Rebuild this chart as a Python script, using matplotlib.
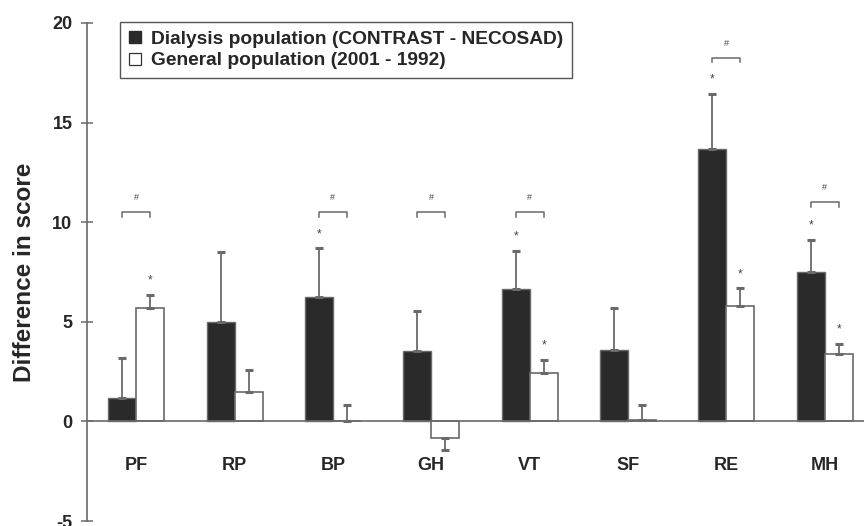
import numpy as np
import matplotlib
matplotlib.use("Agg")
import matplotlib.pyplot as plt
from matplotlib.lines import Line2D

plt.rcParams['font.family'] = ['Liberation Sans', 'DejaVu Sans']
plt.rcParams['font.weight'] = 'bold'
plt.rcParams['axes.unicode_minus'] = False

# SF-36 domains and mean differences in score
categories = ['PF', 'RP', 'BP', 'GH', 'VT', 'SF', 'RE', 'MH']
dialysis = [1.17, 5.00, 6.25, 3.55, 6.67, 3.60, 13.67, 7.50]
dialysis_err = [2.01, 3.51, 2.44, 1.98, 1.89, 2.11, 2.76, 1.60]
general = [5.69, 1.46, 0.0, -0.84, 2.43, 0.08, 5.78, 3.37]
general_err = [0.68, 1.12, 0.80, 0.58, 0.64, 0.72, 0.90, 0.51]

# significance markers
dialysis_star = [False, False, True, False, True, False, True, True]
general_star = [True, False, False, False, True, False, True, True]
bracket_y = [10.5, None, 10.5, 10.5, 10.5, None, 18.24, 11.0]

dark = '#2a2a2a'
edge = '#6a6a6a'
text_col = '#262626'

fig = plt.figure(figsize=(8.64, 5.26), dpi=100)
ax = fig.add_axes([87 / 864, 5 / 526, 777 / 864, 498 / 526])

x = np.arange(len(categories))
w = 0.285

def one_sided(vals, errs):
    lo = [e if v < 0 else 0 for v, e in zip(vals, errs)]
    hi = [0 if v < 0 else e for v, e in zip(vals, errs)]
    return [lo, hi]

ax.bar(x - w / 2, dialysis, w, color=dark, edgecolor=edge, linewidth=1.0, zorder=2)
ax.bar(x + w / 2, general, w, color='white', edgecolor=edge, linewidth=1.2, zorder=2)

ekw = dict(fmt='none', ecolor=edge, elinewidth=1.3, capsize=3, capthick=2.2, zorder=3)
ax.errorbar(x - w / 2, dialysis, yerr=one_sided(dialysis, dialysis_err), **ekw)
ax.errorbar(x + w / 2, general, yerr=one_sided(general, general_err), **ekw)

ax.axhline(0, color=edge, linewidth=1.2, zorder=4)

for i in range(len(categories)):
    if dialysis_star[i]:
        ax.text(x[i] - w / 2, dialysis[i] + dialysis_err[i] + 0.72, '*',
                ha='center', va='center', fontsize=8.5, fontweight='normal', color='#444444')
    if general_star[i]:
        ax.text(x[i] + w / 2, general[i] + general_err[i] + 0.72, '*',
                ha='center', va='center', fontsize=8.5, fontweight='normal', color='#444444')
    if bracket_y[i] is not None:
        by = bracket_y[i]
        ax.plot([x[i] - w / 2, x[i] - w / 2, x[i] + w / 2, x[i] + w / 2],
                [by - 0.22, by, by, by - 0.22], color=edge, linewidth=1.1)
        ax.text(x[i], by + 0.75, '#', ha='center', va='center',
                fontsize=6.5, fontweight='normal', color='#444444')
    ax.text(x[i], -2.2, categories[i], ha='center', va='center',
            fontsize=13, fontweight='bold', color=text_col)

ax.set_xlim(-0.5, 7.4)
ax.set_ylim(-5, 20)
ax.set_yticks([-5, 0, 5, 10, 15, 20])
ax.set_xticks([])
for s in ['top', 'right', 'bottom']:
    ax.spines[s].set_visible(False)
ax.spines['left'].set_color(edge)
ax.spines['left'].set_linewidth(1.2)
ax.tick_params(axis='y', direction='inout', length=9, width=1.1, color=edge,
               labelsize=13, labelcolor=text_col, pad=6)
for lbl in ax.get_yticklabels():
    lbl.set_fontweight('bold')

ax.set_ylabel('Difference in score', fontsize=17.5, fontweight='bold',
              color=text_col, labelpad=12)

handles = [
    Line2D([], [], marker='s', linestyle='none', markersize=8,
           markerfacecolor=dark, markeredgecolor=dark),
    Line2D([], [], marker='s', linestyle='none', markersize=8,
           markerfacecolor='white', markeredgecolor='#333333', markeredgewidth=0.9),
]
leg = ax.legend(handles, ['Dialysis population (CONTRAST - NECOSAD)',
                          'General population (2001 - 1992)'],
                loc='upper left', bbox_to_anchor=(120 / 864, 1 - 22 / 526),
                bbox_transform=fig.transFigure, borderaxespad=0,
                fancybox=False, framealpha=1, edgecolor='#555555',
                prop={'size': 13.8, 'weight': 'bold'}, handlelength=0.7,
                handletextpad=0.45, labelspacing=0.2, borderpad=0.45)
leg.get_frame().set_linewidth(1.0)
for t in leg.get_texts():
    t.set_color(text_col)

fig.savefig('out.png', dpi=100)
